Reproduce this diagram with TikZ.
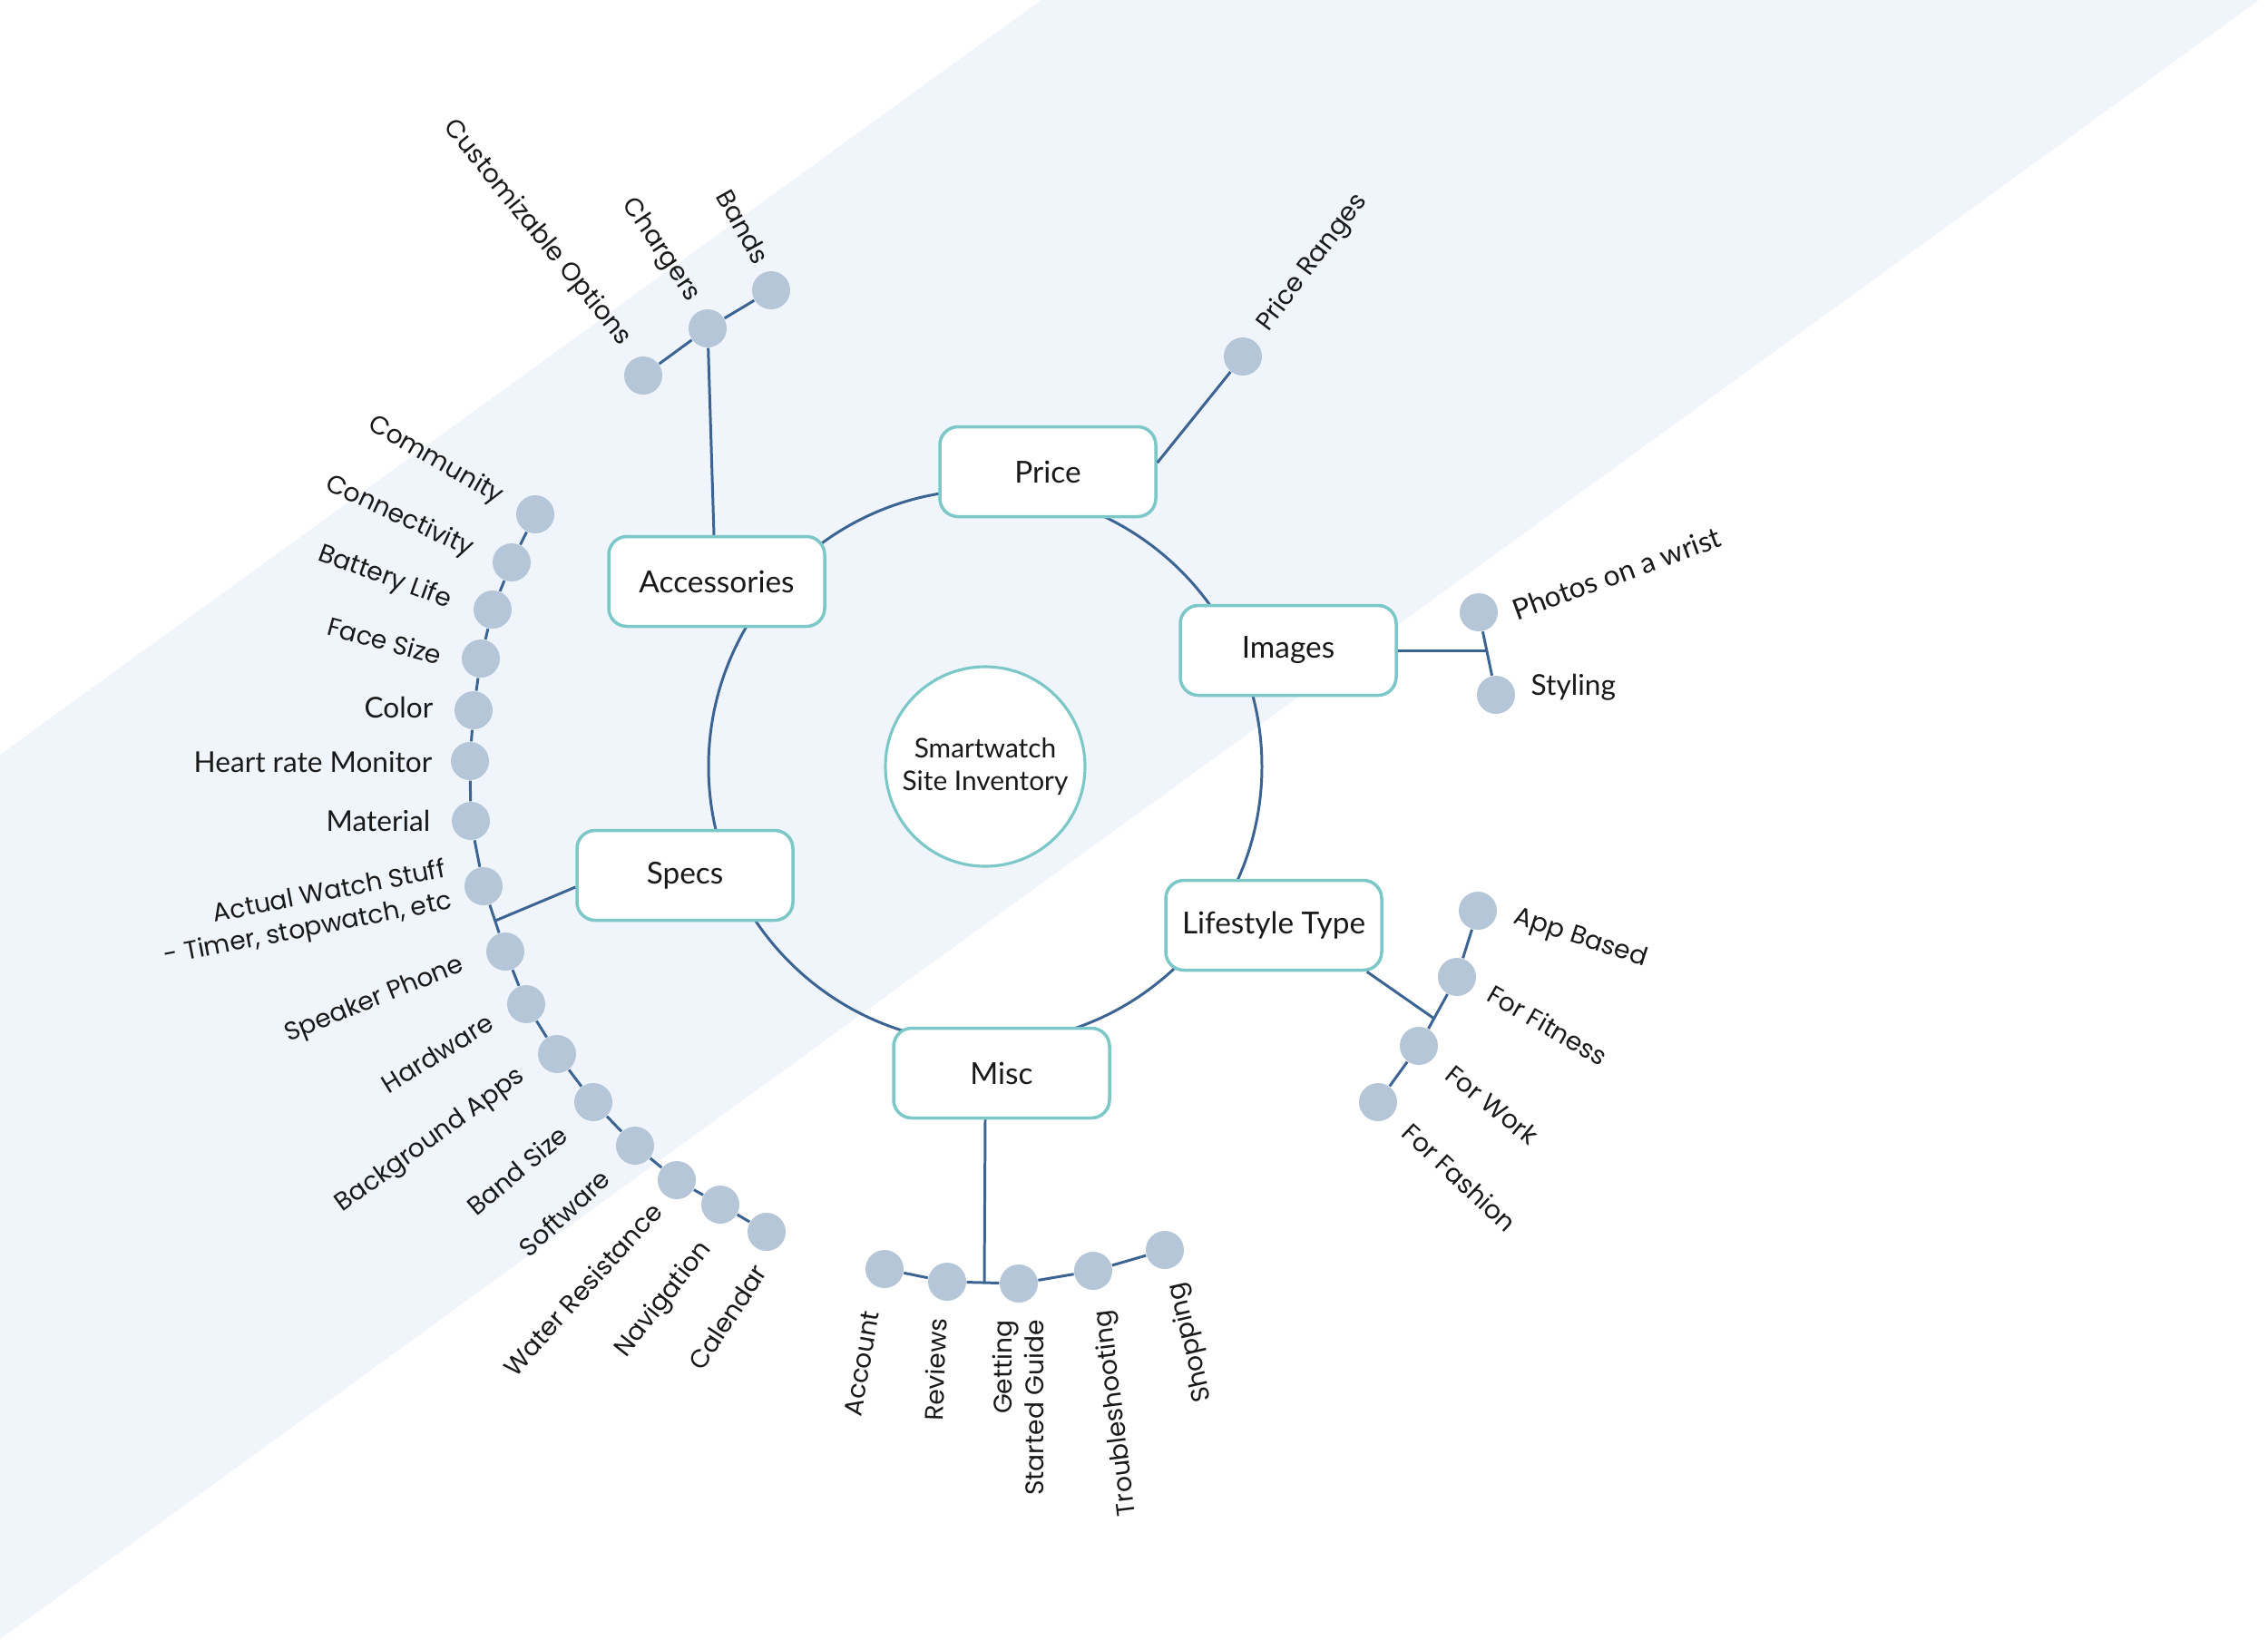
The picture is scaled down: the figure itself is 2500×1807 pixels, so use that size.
\documentclass[tikz,border=0pt]{standalone}
\usepackage{fontspec}
\setmainfont{Lato}
\newfontfamily\geo{Poppins}
\newfontfamily\gro{Lato}
\usetikzlibrary{calc}
\definecolor{bandc}{RGB}{240,244,251}
\definecolor{tealc}{RGB}{124,200,200}
\definecolor{linec}{RGB}{60,100,147}
\definecolor{dotc}{RGB}{181,198,216}
\definecolor{txtc}{RGB}{25,25,25}
\begin{document}
\begin{tikzpicture}[x=0.1mm,y=-0.1mm,
  boxnode/.style={draw=tealc, line width=1pt, rounded corners=2mm, fill=white,
    minimum width=23.8mm, minimum height=9.9mm, inner sep=0pt, text=txtc,
    font=\gro\fontsize{9.5}{11}\selectfont},
  dotnode/.style={circle, fill=dotc, minimum size=4.2mm, inner sep=0pt},
  link/.style={draw=linec, line width=0.85pt},
  lg/.style={font=\geo\fontsize{8}{10}\selectfont, inner sep=0pt, text=txtc},
  lr/.style={font=\gro\fontsize{9}{11}\selectfont, inner sep=0pt, text=txtc},
]
\useasboundingbox (0,0) rectangle (2500,1807);
\fill[white] (0,0) rectangle (2500,1807);
\fill[bandc] (0,832) -- (1148,0) -- (2490,0) -- (0,1807) -- cycle;

% hub and ring
\node[circle, draw=tealc, line width=0.9pt, fill=white, minimum size=22mm, inner sep=0pt,
  align=center, text=txtc, font=\gro\fontsize{8.5}{10}\selectfont] (hub) at (1086,845) {Smartwatch\\Site Inventory};
\draw[link] (hub.center) circle[radius=30.5mm];

% main boxes
\node[boxnode] (price) at (1155,520) {Price};
\node[boxnode] (acc) at (790,641) {Accessories};
\node[boxnode] (img) at (1420,717) {Images};
\node[boxnode] (specs) at (755,965) {Specs};
\node[boxnode] (life) at (1404,1020) {Lifestyle Type};
\node[boxnode] (misc) at (1104,1183) {Misc};

% dots
\node[dotnode] (pr) at (1370,393) {};
\node[dotnode] (cust) at (709,414) {};
\node[dotnode] (chg) at (780,362) {};
\node[dotnode] (bnd) at (850,320) {};
\node[dotnode] (com) at (590,567) {};
\node[dotnode] (con) at (564,620) {};
\node[dotnode] (bat) at (543,672) {};
\node[dotnode] (face) at (530,726) {};
\node[dotnode] (col) at (522,783) {};
\node[dotnode] (hrm) at (518,839) {};
\node[dotnode] (mat) at (519,905) {};
\node[dotnode] (aws) at (533,977) {};
\node[dotnode] (spk) at (557,1049) {};
\node[dotnode] (hw) at (580,1107) {};
\node[dotnode] (bg) at (614,1162) {};
\node[dotnode] (bs) at (654,1215) {};
\node[dotnode] (sw) at (700,1263) {};
\node[dotnode] (wr) at (746,1301) {};
\node[dotnode] (nav) at (794,1328) {};
\node[dotnode] (cal) at (845,1358) {};
\node[dotnode] (pho) at (1630,675) {};
\node[dotnode] (sty) at (1649,766) {};
\node[dotnode] (app) at (1629,1004) {};
\node[dotnode] (fit) at (1606,1077) {};
\node[dotnode] (work) at (1564,1153) {};
\node[dotnode] (fash) at (1519,1215) {};
\node[dotnode] (accn) at (975,1399) {};
\node[dotnode] (rev) at (1044,1413) {};
\node[dotnode] (gsg) at (1123,1415) {};
\node[dotnode] (tro) at (1205,1401) {};
\node[dotnode] (shop) at (1284,1378) {};

% junctions
\coordinate (sj) at (546,1015);
\coordinate (ij) at (1639,717);
\coordinate (lj) at (1581,1123);
\coordinate (mj) at (1085,1414);

% links
\draw[link] ($(price.east)+(0,-10)$) -- (pr);
\draw[link] ($(acc.north)+(-3,0)$) -- (chg);
\draw[link] (cust) -- (chg) -- (bnd);
\draw[link] (com) -- (con) -- (bat) -- (face) -- (col) -- (hrm) -- (mat) -- (aws) -- (spk)
  -- (hw) -- (bg) -- (bs) -- (sw) -- (wr) -- (nav) -- (cal);
\draw[link] ($(specs.west)+(0,13)$) -- (sj);
\draw[link] (pho) -- (sty);
\draw[link] (img.east) -- (ij);
\draw[link] (app) -- (fit) -- (work) -- (fash);
\draw[link] ($(life.south east)+(-18,0)$) -- (lj);
\draw[link] (accn) -- (rev) -- (gsg) -- (tro) -- (shop);
\draw[link] ($(misc.south)+(-18,0)$) -- (mj);

% labels
\node[lg, rotate=53] (tpr) at (1447,290) {Price Ranges};
\node[lg, rotate=-51] (tcust) at (592,257) {Customizable Options};
\node[lg, rotate=-56] (tchg) at (728,276) {Chargers};
\node[lg, rotate=-61] (tbnd) at (819,250) {Bands};

\node[lg, rotate=-30] (tcom) at (480,508) {Community};
\node[lg, rotate=-25] (tcon) at (440,570) {Connectivity};
\node[lg, rotate=-20] (tbat) at (424,637) {Battery Life};
\node[lg, rotate=-15] (tface) at (424,706) {Face Size};
\node[lr, anchor=east] (tcol) at (478,780) {Color};
\node[lr, anchor=east] (thrm) at (477,840) {Heart rate Monitor};
\node[lr, anchor=east] (tmat) at (475,905) {Material};
\node[lg, rotate=11, align=right] (taws) at (336,1008) {Actual Watch Stuff\\- Timer, stopwatch, etc};
\node[lg, rotate=22] (tspk) at (413,1103) {Speaker Phone};
\node[lg, rotate=32] (thw) at (482,1161) {Hardware};
\node[lg, rotate=36] (tbg) at (475,1258) {Background Apps};
\node[lg, rotate=40] (tbs) at (570,1290) {Band Size};
\node[lg, rotate=43] (tsw) at (622,1337) {Software};
\node[lg, rotate=48] (twr) at (642,1421) {Water Resistance};
\node[lg, rotate=52] (tnav) at (732,1433) {Navigation};
\node[lg, rotate=57] (tcal) at (802,1452) {Calendar};

\node[lr, rotate=20] (tpho) at (1782,632) {Photos on a wrist};
\node[lr, anchor=west] (tsty) at (1687,758) {Styling};

\node[lg, rotate=-18] (tapp) at (1742,1035) {App Based};
\node[lg, rotate=-30] (tfit) at (1706,1130) {For Fitness};
\node[lg, rotate=-39] (twork) at (1645,1218) {For Work};
\node[lg, rotate=-43] (tfash) at (1609,1298) {For Fashion};

\node[lg, rotate=80] (taccn) at (950,1503) {Account};
\node[lg, rotate=88] (trev) at (1031,1510) {Reviews};
\node[lg, rotate=90, align=right] (tgsg) at (1122,1552) {Getting\\Started Guide};
\node[lg, rotate=97] (ttro) at (1231,1558) {Troubleshooting};
\node[lg, rotate=103] (tshop) at (1313,1480) {Shopping};
\end{tikzpicture}
\end{document}
